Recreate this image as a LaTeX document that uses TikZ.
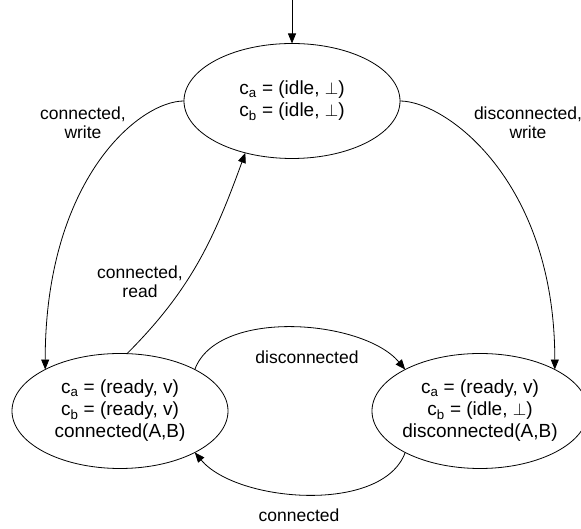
\documentclass[tikz,border=0pt]{standalone}
\usepackage{fontspec}
\setmainfont{Liberation Sans}
\usetikzlibrary{shapes.geometric,arrows.meta}

\tikzset{
  conf/.style={ellipse, draw, minimum width=216pt, minimum height=115pt,
    inner xsep=-6pt, inner ysep=0pt, outer sep=0pt, align=center,
    font=\fontsize{19}{22}\selectfont},
  lbl/.style={align=center, font=\fontsize{17.5}{19}\selectfont}
}

\begin{document}
\begin{tikzpicture}[x=1pt,y=1pt,line width=0.8pt,
    >={Triangle[length=10pt,width=8pt]}]
        \useasboundingbox (0,0) rectangle (581,529);
        % \draw[help lines,step=50] (0,0) grid (581,529);
        \coordinate (start) at (292,529);
        \node[conf] at (292,428) (idle) {c\textsubscript{a} = (idle, $\bot$)\\c\textsubscript{b} = (idle, $\bot$)};
        \node[conf] at (120,118) (rdy) {c\textsubscript{a} = (ready, v)\\c\textsubscript{b} = (ready, v)\\connected(A,B)};
        \node[conf] at (480,118) (dis) {c\textsubscript{a} = (ready, v)\\c\textsubscript{b} = (idle, $\bot$)\\disconnected(A,B)};

        \node[lbl] at (83,406) (cw) {connected,\\write};
        \node[lbl] at (528,406) (dw) {disconnected,\\write};
        \node[lbl] at (140,247) (cr) {connected,\\read};
        \node[lbl] at (307,172) (dl) {disconnected};
        \node[lbl] at (299,14) (cl) {connected};

        \path[->]
        (start) edge (idle)

        (idle.west) edge [out=180,in=90,out distance=45pt,in distance=190pt] (rdy.151)
        (idle.east) edge [out=0,in=90,out distance=45pt,in distance=190pt] (dis.29)

        (rdy.83) edge [out=45,in=250] (idle.228)

        (rdy.29) edge [out=70,in=130,looseness=0.8] (dis.151)
        (dis.209) edge [out=250,in=310,looseness=0.8] (rdy.331);
    \end{tikzpicture}
\end{document}
